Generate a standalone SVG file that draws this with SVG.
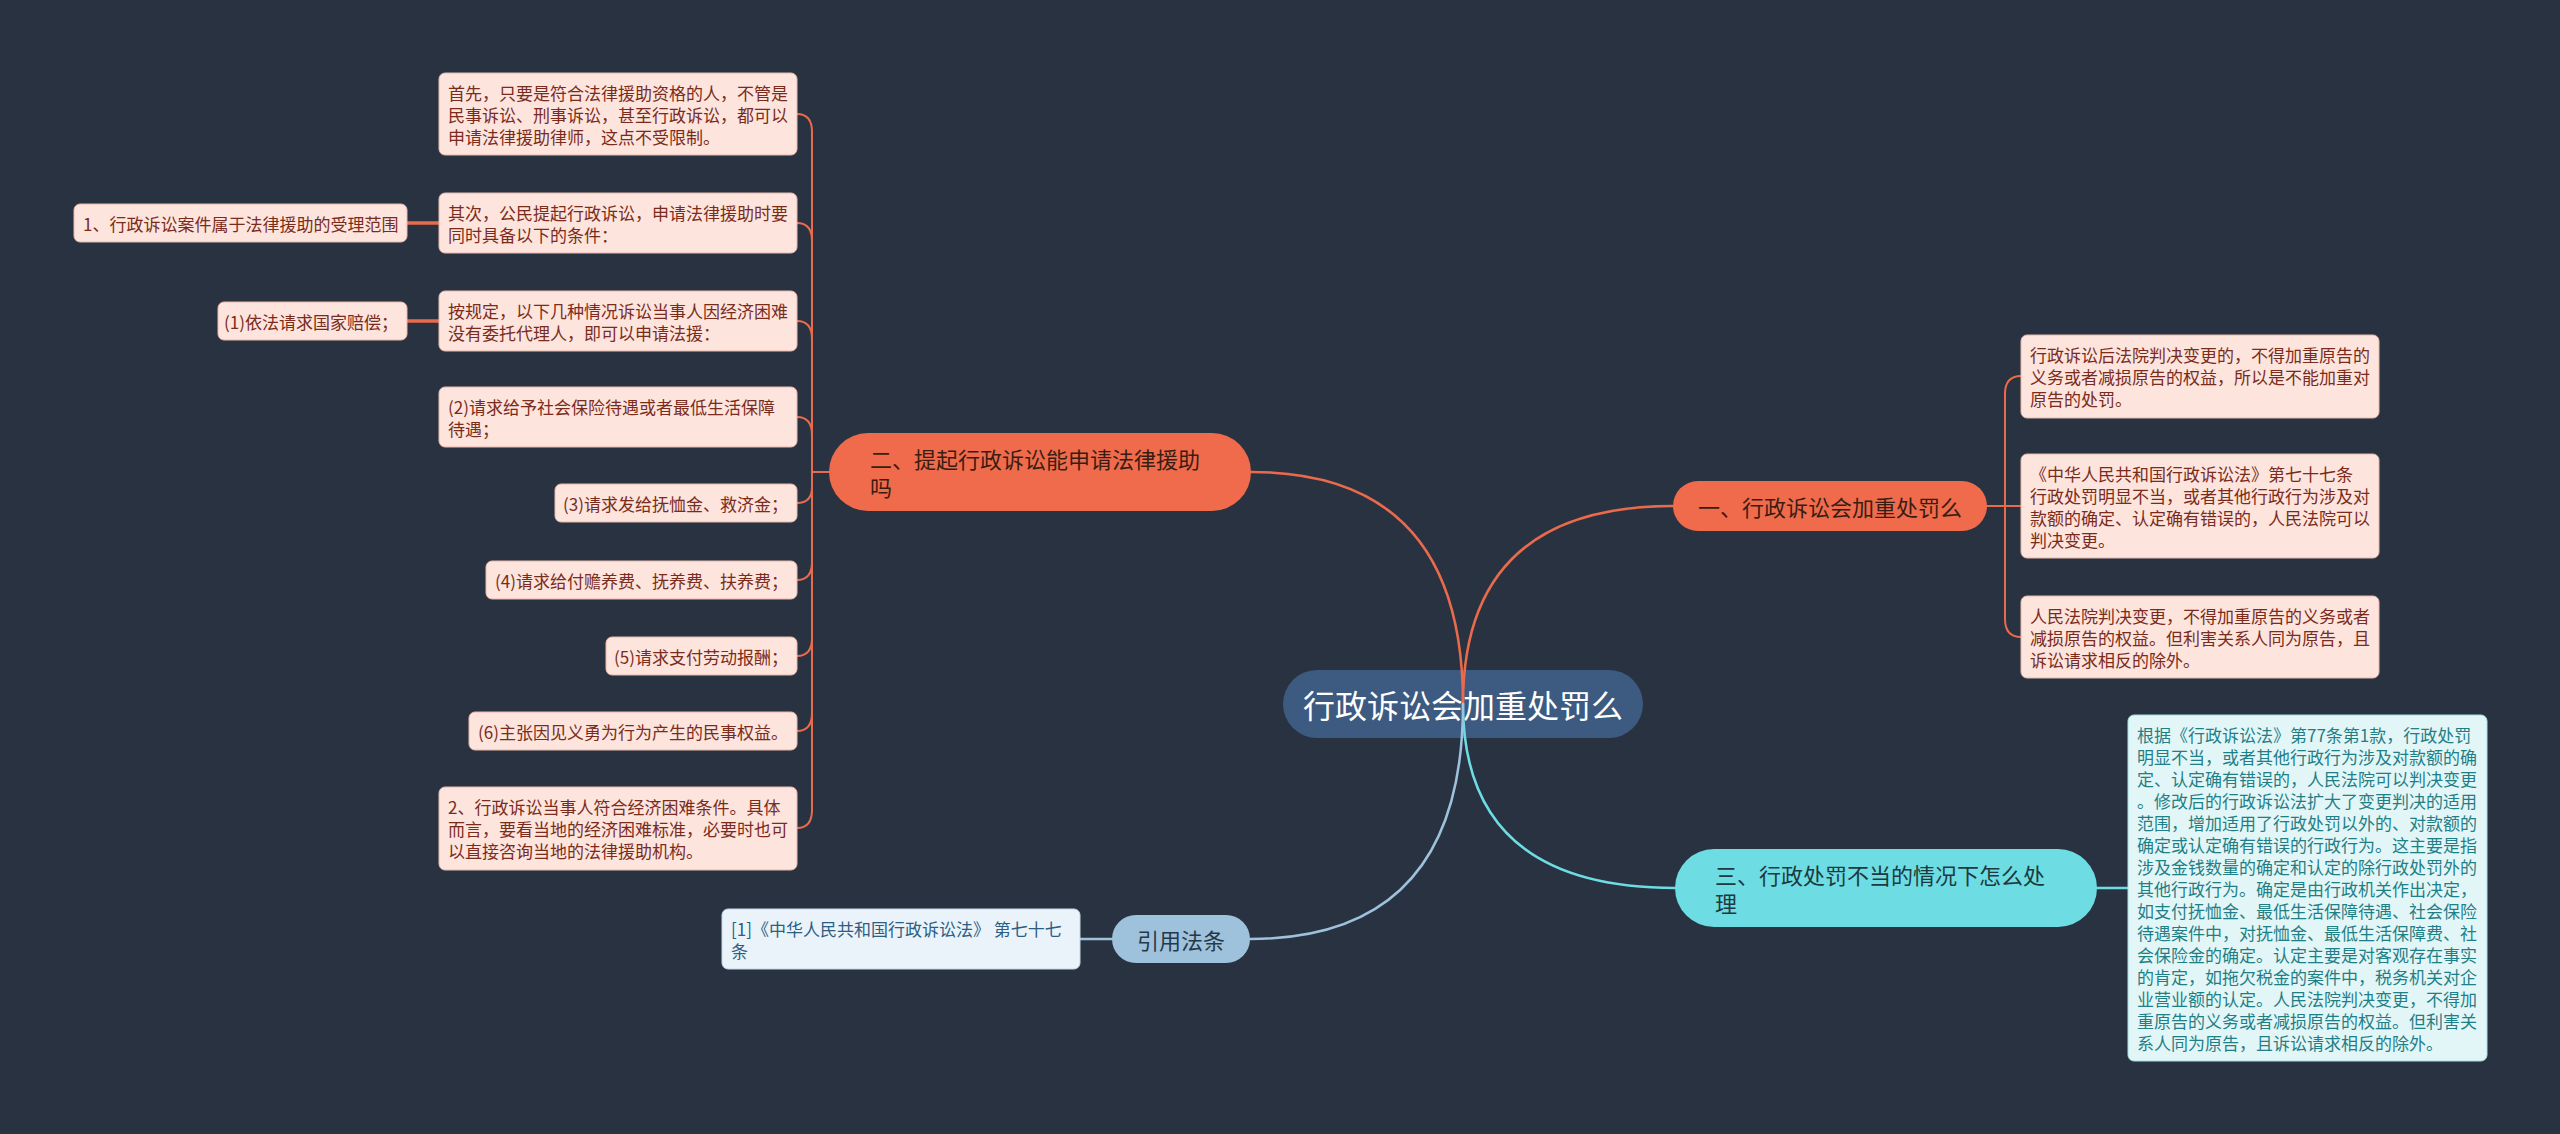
<svg xmlns="http://www.w3.org/2000/svg" width="2560" height="1134" viewBox="0 0 2560 1134">
<style>
text{font-family:"Noto Sans CJK SC","Noto Sans",sans-serif;dominant-baseline:central}
.bg{fill:#293240}
.root rect{fill:#3d5a80}
.root text{fill:#ffffff;font-size:32px}
.br rect{fill:#ef6b4c}
.br text{fill:#3a1d12;font-size:22px}
.lf rect{fill:#fde4dd;stroke:#e8b9ab;stroke-width:1}
.lf text{fill:#7a2c1c;font-size:17px}
.cy rect{fill:#6ddde3}
.cy text{fill:#1d3a40;font-size:22px}
.cl rect{fill:#e3f6f7;stroke:#a6dfe3;stroke-width:1}
.cl text{fill:#1f7f87;font-size:17px}
.bl rect{fill:#9ec2dc}
.bl text{fill:#26394a;font-size:22px}
.bll rect{fill:#eaf3f9;stroke:#c2d8e8;stroke-width:1}
.bll text{fill:#2c5e84;font-size:17px}
.c{fill:none;stroke-linecap:round;stroke-linejoin:round}
.o{stroke:#ea6a4c;stroke-width:2.5}
.o2{stroke:#ea6a4c;stroke-width:2}
.o3{stroke:#ea6a4c;stroke-width:3.5}
.t{stroke:#6ddde3;stroke-width:2.5}
.b{stroke:#9ec2dc;stroke-width:2.5}
</style>
<rect class="bg" x="0" y="0" width="2560" height="1134"/>

<g id="root" class="root">
<rect x="1283" y="670" width="360" height="68" rx="34"/>
<text x="1463" y="704" text-anchor="middle">行政诉讼会加重处罚么</text>
</g>

<g id="connectors">
<path class="c o" d="M1463,704 Q1463,472 1251,472"/>
<path class="c o" d="M1463,704 Q1463,506 1673,506"/>
<path class="c t" d="M1463,704 Q1463,888 1675,888"/>
<path class="c b" d="M1463,704 Q1463,939 1250,939"/>
<path class="c o2" d="M829,472 L812,472 L812,132 Q812,114 797,114"/>
<path class="c o2" d="M829,472 L812,472 L812,241 Q812,223 797,223"/>
<path class="c o2" d="M829,472 L812,472 L812,339 Q812,321 797,321"/>
<path class="c o2" d="M829,472 L812,472 L812,435 Q812,417 797,417"/>
<path class="c o2" d="M829,472 L812,472 L812,487 Q812,503 797,503"/>
<path class="c o2" d="M829,472 L812,472 L812,562 Q812,580 797,580"/>
<path class="c o2" d="M829,472 L812,472 L812,638 Q812,656 797,656"/>
<path class="c o2" d="M829,472 L812,472 L812,713 Q812,731 797,731"/>
<path class="c o2" d="M829,472 L812,472 L812,810 Q812,828 797,828"/>
<path class="c o3" d="M439,223 L407,223"/>
<path class="c o3" d="M439,321 L407,321"/>
<path class="c o2" d="M1987,506 L2005,506 L2005,394 Q2005,376 2021,376"/>
<path class="c o2" d="M1987,506 L2021,506"/>
<path class="c o2" d="M1987,506 L2005,506 L2005,619 Q2005,637 2021,637"/>
<path class="c t" d="M2097,888 L2128,888"/>
<path class="c b" d="M1112,939 L1080,939"/>
</g>

<g id="n2" class="br">
<rect x="829" y="433" width="422" height="78" rx="39"/>
<text x="870" y="458">二、提起行政诉讼能申请法律援助</text>
<text x="870" y="486">吗</text>
</g>
<g id="n2-1" class="lf">
<rect x="439" y="73" width="358" height="82" rx="6"/>
<text x="448" y="92">首先，只要是符合法律援助资格的人，不管是</text>
<text x="448" y="114">民事诉讼、刑事诉讼，甚至行政诉讼，都可以</text>
<text x="448" y="136">申请法律援助律师，这点不受限制。</text>
</g>
<g id="n2-2" class="lf">
<rect x="439" y="193" width="358" height="60" rx="6"/>
<text x="448" y="212">其次，公民提起行政诉讼，申请法律援助时要</text>
<text x="448" y="234">同时具备以下的条件：</text>
</g>
<g id="n2-2-1" class="lf">
<rect x="74" y="204" width="333" height="38" rx="6"/>
<text x="83" y="223">1、行政诉讼案件属于法律援助的受理范围</text>
</g>
<g id="n2-3" class="lf">
<rect x="439" y="291" width="358" height="60" rx="6"/>
<text x="448" y="310">按规定，以下几种情况诉讼当事人因经济困难</text>
<text x="448" y="332">没有委托代理人，即可以申请法援：</text>
</g>
<g id="n2-3-1" class="lf">
<rect x="218" y="302" width="189" height="38" rx="6"/>
<text x="398" y="321" text-anchor="end">(1)依法请求国家赔偿；</text>
</g>
<g id="n2-4" class="lf">
<rect x="439" y="387" width="358" height="60" rx="6"/>
<text x="448" y="406">(2)请求给予社会保险待遇或者最低生活保障</text>
<text x="448" y="428">待遇；</text>
</g>
<g id="n2-5" class="lf">
<rect x="555" y="484" width="242" height="38" rx="6"/>
<text x="788" y="503" text-anchor="end">(3)请求发给抚恤金、救济金；</text>
</g>
<g id="n2-6" class="lf">
<rect x="486" y="561" width="311" height="38" rx="6"/>
<text x="788" y="580" text-anchor="end">(4)请求给付赡养费、抚养费、扶养费；</text>
</g>
<g id="n2-7" class="lf">
<rect x="606" y="637" width="191" height="38" rx="6"/>
<text x="788" y="656" text-anchor="end">(5)请求支付劳动报酬；</text>
</g>
<g id="n2-8" class="lf">
<rect x="469" y="712" width="328" height="38" rx="6"/>
<text x="788" y="731" text-anchor="end">(6)主张因见义勇为行为产生的民事权益。</text>
</g>
<g id="n2-9" class="lf">
<rect x="439" y="787" width="358" height="83" rx="6"/>
<text x="448" y="806">2、行政诉讼当事人符合经济困难条件。具体</text>
<text x="448" y="828">而言，要看当地的经济困难标准，必要时也可</text>
<text x="448" y="850">以直接咨询当地的法律援助机构。</text>
</g>

<g id="n1" class="br">
<rect x="1673" y="481" width="314" height="50" rx="25"/>
<text x="1698" y="506">一、行政诉讼会加重处罚么</text>
</g>
<g id="n1-1" class="lf">
<rect x="2021" y="335" width="358" height="83" rx="6"/>
<text x="2030" y="354">行政诉讼后法院判决变更的，不得加重原告的</text>
<text x="2030" y="376">义务或者减损原告的权益，所以是不能加重对</text>
<text x="2030" y="398">原告的处罚。</text>
</g>
<g id="n1-2" class="lf">
<rect x="2021" y="454" width="358" height="104" rx="6"/>
<text x="2030" y="473">《中华人民共和国行政诉讼法》第七十七条</text>
<text x="2030" y="495">行政处罚明显不当，或者其他行政行为涉及对</text>
<text x="2030" y="517">款额的确定、认定确有错误的，人民法院可以</text>
<text x="2030" y="539">判决变更。</text>
</g>
<g id="n1-3" class="lf">
<rect x="2021" y="596" width="358" height="82" rx="6"/>
<text x="2030" y="615">人民法院判决变更，不得加重原告的义务或者</text>
<text x="2030" y="637">减损原告的权益。但利害关系人同为原告，且</text>
<text x="2030" y="659">诉讼请求相反的除外。</text>
</g>

<g id="n3" class="cy">
<rect x="1675" y="849" width="422" height="78" rx="39"/>
<text x="1715" y="874">三、行政处罚不当的情况下怎么处</text>
<text x="1715" y="902">理</text>
</g>
<g id="n3-1" class="cl">
<rect x="2128" y="715" width="359" height="346" rx="6"/>
<text x="2137" y="734">根据《行政诉讼法》第77条第1款，行政处罚</text>
<text x="2137" y="756">明显不当，或者其他行政行为涉及对款额的确</text>
<text x="2137" y="778">定、认定确有错误的，人民法院可以判决变更</text>
<text x="2137" y="800">。修改后的行政诉讼法扩大了变更判决的适用</text>
<text x="2137" y="822">范围，增加适用了行政处罚以外的、对款额的</text>
<text x="2137" y="844">确定或认定确有错误的行政行为。这主要是指</text>
<text x="2137" y="866">涉及金钱数量的确定和认定的除行政处罚外的</text>
<text x="2137" y="888">其他行政行为。确定是由行政机关作出决定，</text>
<text x="2137" y="910">如支付抚恤金、最低生活保障待遇、社会保险</text>
<text x="2137" y="932">待遇案件中，对抚恤金、最低生活保障费、社</text>
<text x="2137" y="954">会保险金的确定。认定主要是对客观存在事实</text>
<text x="2137" y="976">的肯定，如拖欠税金的案件中，税务机关对企</text>
<text x="2137" y="998">业营业额的认定。人民法院判决变更，不得加</text>
<text x="2137" y="1020">重原告的义务或者减损原告的权益。但利害关</text>
<text x="2137" y="1042">系人同为原告，且诉讼请求相反的除外。</text>
</g>

<g id="n4" class="bl">
<rect x="1112" y="915" width="138" height="48" rx="24"/>
<text x="1181" y="939" text-anchor="middle">引用法条</text>
</g>
<g id="n4-1" class="bll">
<rect x="722" y="909" width="358" height="60" rx="6"/>
<text x="731" y="928">[1]《中华人民共和国行政诉讼法》 第七十七</text>
<text x="731" y="950">条</text>
</g>
</svg>
